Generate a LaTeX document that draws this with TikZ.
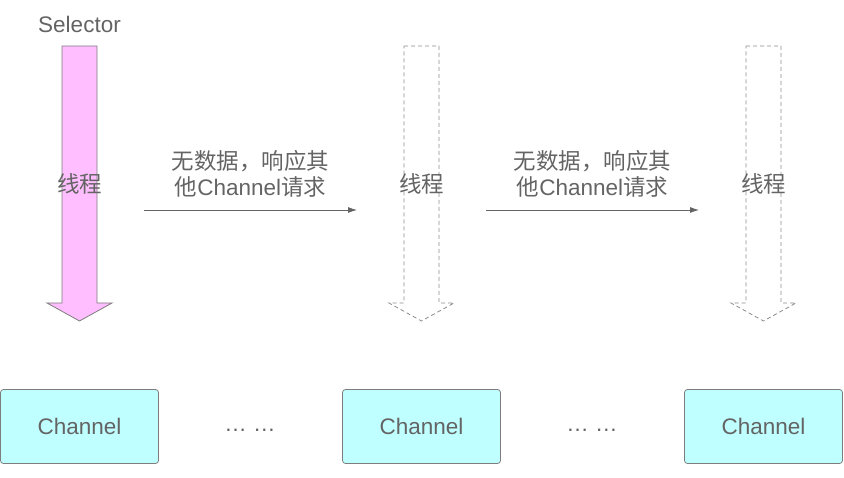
\documentclass[tikz,border=0pt]{standalone}
\usepackage{fontspec}
\setmainfont{Liberation Sans}
\newfontfamily\cjk{Noto Sans CJK SC}
\usetikzlibrary{arrows.meta,positioning}
\definecolor{txtgray}{RGB}{100,100,100}
\definecolor{linegray}{RGB}{125,125,125}
\definecolor{threadpink}{RGB}{255,190,255}
\definecolor{chancyan}{RGB}{192,255,255}

\begin{document}
\begin{tikzpicture}[
    x=1pt, y=-1pt,
    every node/.style={text=txtgray, font=\fontsize{22.5}{26}\selectfont},
    active/.style={draw=linegray, fill=threadpink, line width=0.8pt},
    idle/.style={draw=linegray!90, dash pattern=on 4pt off 3pt, line width=0.8pt},
    chan/.style={draw=linegray, fill=chancyan, rounded corners=3pt, line width=0.8pt,
      minimum width=158pt, minimum height=74pt},
    flow/.style={-{Latex[length=9pt,width=6pt]}, draw=txtgray, line width=0.8pt},
    flowlabel/.style={align=center, inner sep=0pt}
  ]
    \useasboundingbox (0,0) rectangle (844,478);

    % thread arrows
    \foreach \x/\sty/\nm in {79.5/active/ta, 421.5/idle/tb, 763.5/idle/tc} {
      \draw[\sty] (\x-17.5,46) -- (\x+17.5,46) -- (\x+17.5,303) -- (\x+32.5,303)
        -- (\x,321) -- (\x-32.5,303) -- (\x-17.5,303) -- cycle;
      \node (\nm) at (\x,184) {\cjk 线程};
    }
    \node (sel) at (79.5,24) {Selector};

    % channels
    \node[chan] (ch1) at (79.5,426.5) {Channel};
    \node[chan] (ch2) at (421.5,426.5) {Channel};
    \node[chan] (ch3) at (763.5,426.5) {Channel};
    \node (dots1) at (250,430) {\dots\ \dots};
    \node (dots2) at (592,430) {\dots\ \dots};

    % switching
    \coordinate (s1) at (144,210);
    \coordinate (e1) at (357,210);
    \coordinate (s2) at (486,210);
    \coordinate (e2) at (699,210);
    \draw[flow] (s1) -- node[above=12pt, flowlabel] {{\cjk 无数据，响应其}\\{\cjk 他}Channel{\cjk 请求}} (e1);
    \draw[flow] (s2) -- node[above=12pt, flowlabel] {{\cjk 无数据，响应其}\\{\cjk 他}Channel{\cjk 请求}} (e2);
  \end{tikzpicture}
\end{document}
